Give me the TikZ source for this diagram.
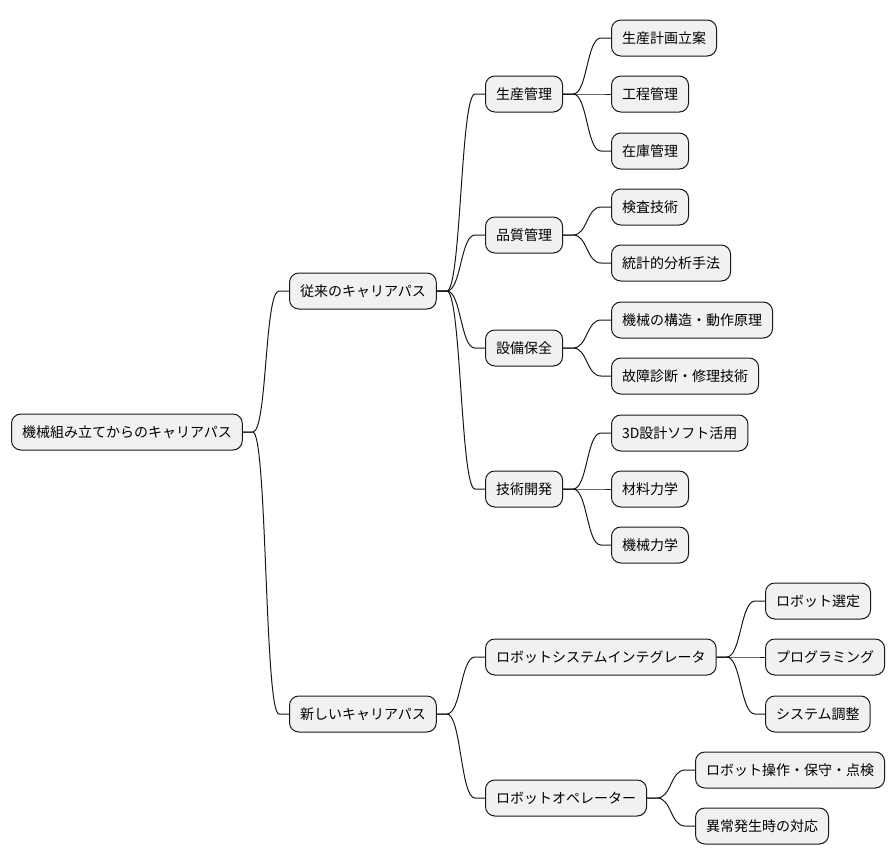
\documentclass[tikz,border=0pt]{standalone}
\usepackage{fontspec}
\newfontfamily\jpfont{Noto Sans CJK JP}
\usetikzlibrary{calc}
\definecolor{boxfill}{HTML}{F1F1F1}
\definecolor{boxline}{HTML}{181818}
\tikzset{topic/.style={draw=boxline, fill=boxfill, line width=0.75pt, rounded corners=7pt, anchor=west,
	minimum height=27pt, inner xsep=7.9pt, inner ysep=0pt, font=\jpfont\fontsize{10.5pt}{12pt}\selectfont}}
\def\branch(#1)(#2){\draw[line width=0.75pt, color=boxline] (#1.east) -- ++(10,0) .. controls +(14.5,0) and +(-14.5,0) .. ($(#2.west)+(-10,0)$) -- (#2.west);}

\begin{document}
\begin{tikzpicture}[x=0.75pt, y=-0.75pt]
		%%%%% START %%%%%
		
		\useasboundingbox (0, 0) rectangle (894, 865);
		
		\node[topic] (root) at (11, 432) {機械組み立てからのキャリアパス};
		
		\node[topic] (past) at (289, 291) {従来のキャリアパス};
		\node[topic] (new) at (289, 714) {新しいキャリアパス};
		
		\node[topic] (prod) at (485, 94) {生産管理};
		\node[topic] (qual) at (485, 235) {品質管理};
		\node[topic] (maint) at (485, 348) {設備保全};
		\node[topic] (dev) at (485, 489) {技術開発};
		
		\node[topic] (plan) at (611, 38) {生産計画立案};
		\node[topic] (proc) at (611, 94) {工程管理};
		\node[topic] (stock) at (611, 151) {在庫管理};
		\node[topic] (insp) at (611, 207) {検査技術};
		\node[topic] (stat) at (611, 263) {統計的分析手法};
		\node[topic] (mech) at (611, 320) {機械の構造・動作原理};
		\node[topic] (repair) at (611, 376) {故障診断・修理技術};
		\node[topic] (cad) at (611, 433) {3D設計ソフト活用};
		\node[topic] (mat) at (611, 489) {材料力学};
		\node[topic] (dyn) at (611, 545) {機械力学};
		
		\node[topic] (rsi) at (485, 657) {ロボットシステムインテグレータ};
		\node[topic] (rop) at (485, 798) {ロボットオペレーター};
		
		\node[topic] (sel) at (765, 601) {ロボット選定};
		\node[topic] (prog) at (765, 657) {プログラミング};
		\node[topic] (adj) at (765, 714) {システム調整};
		\node[topic] (oper) at (695, 770) {ロボット操作・保守・点検};
		\node[topic] (trouble) at (695, 826) {異常発生時の対応};
		
		\branch(root)(past)
		\branch(root)(new)
		
		\branch(past)(prod)
		\branch(past)(qual)
		\branch(past)(maint)
		\branch(past)(dev)
		
		\branch(prod)(plan)
		\branch(prod)(proc)
		\branch(prod)(stock)
		\branch(qual)(insp)
		\branch(qual)(stat)
		\branch(maint)(mech)
		\branch(maint)(repair)
		\branch(dev)(cad)
		\branch(dev)(mat)
		\branch(dev)(dyn)
		
		\branch(new)(rsi)
		\branch(new)(rop)
		
		\branch(rsi)(sel)
		\branch(rsi)(prog)
		\branch(rsi)(adj)
		\branch(rop)(oper)
		\branch(rop)(trouble)
		
		%%%%% END %%%%%
	\end{tikzpicture}
\end{document}
